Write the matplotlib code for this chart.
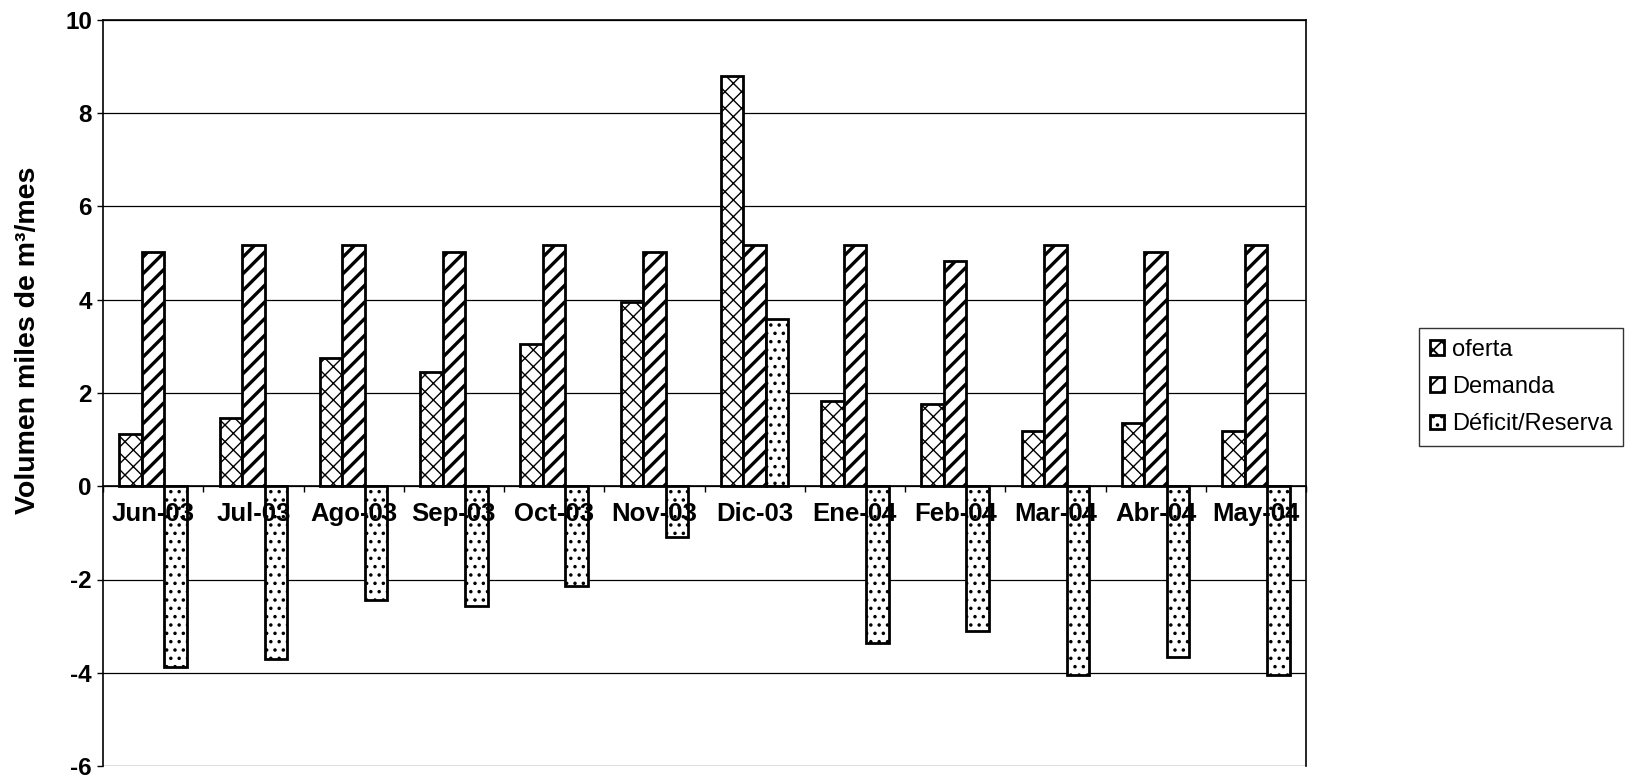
import matplotlib.pyplot as plt
import numpy as np

plt.rcParams['font.family'] = ['Liberation Sans', 'DejaVu Sans']

meses = ["Jun-03", "Jul-03", "Ago-03", "Sep-03", "Oct-03", "Nov-03",
         "Dic-03", "Ene-04", "Feb-04", "Mar-04", "Abr-04", "May-04"]
oferta = [1.12, 1.46, 2.75, 2.46, 3.06, 3.95, 8.79, 1.82, 1.77, 1.18, 1.35, 1.18]
demanda = [5.02, 5.17, 5.17, 5.02, 5.17, 5.02, 5.17, 5.17, 4.83, 5.17, 5.02, 5.17]
deficit = [-3.88, -3.71, -2.45, -2.57, -2.13, -1.09, 3.58, -3.36, -3.10, -4.04, -3.66, -4.04]
yticks = [-6, -4, -2, 0, 2, 4, 6, 8, 10]

fig = plt.figure(figsize=(16.32, 7.77), dpi=100)
ax = fig.add_axes([103 / 1632, 11 / 777, 1203 / 1632, 746 / 777])

x = np.arange(len(meses))
w = 0.225

plt.rcParams['hatch.linewidth'] = 1.0
b1 = ax.bar(x - w, oferta, w, color="white", edgecolor="black", linewidth=2,
            hatch="xx", label="oferta", zorder=2)
plt.rcParams['hatch.linewidth'] = 2.4
b2 = ax.bar(x, demanda, w, color="white", edgecolor="black", linewidth=2,
            hatch="//", label="Demanda", zorder=2)
plt.rcParams['hatch.linewidth'] = 1.3
b3 = ax.bar(x + w, deficit, w, color="white", edgecolor="black", linewidth=2,
            hatch="..", label="Déficit/Reserva", zorder=2)

ax.set_xlim(-0.5, len(meses) - 0.5)
ax.set_ylim(-6, 10)
ax.set_yticks(yticks)
ax.set_yticklabels([str(v) for v in yticks], fontsize=17.5, fontweight="bold")
ax.tick_params(axis="y", direction="out", length=4, width=1, pad=4)

# x axis sits on the zero line; month labels go on top of the bars
ax.spines["bottom"].set_position(("data", 0))
ax.set_xticks(np.arange(-0.5, len(meses), 1))
ax.set_xticklabels([])
ax.tick_params(axis="x", which="major", direction="out", length=4, width=1)
for i, m in enumerate(meses):
    ax.text(i, -0.33, m, ha="center", va="top", fontsize=18.5,
            fontweight="bold", zorder=5)

for s in ["left", "right", "top", "bottom"]:
    ax.spines[s].set_linewidth(1.2)

ax.grid(axis="y", color="black", linewidth=0.9)
ax.set_axisbelow(True)

fig.text(28 / 1632, 1 - 340 / 777, "Volumen miles de m³/mes", rotation=90,
         ha="center", va="center", fontsize=20.5, fontweight="bold")

leg = fig.legend(handles=[b1, b2, b3], loc="upper left",
                 bbox_to_anchor=(1419 / 1632, 1 - 328 / 777), fontsize=17,
                 frameon=True, fancybox=False, edgecolor="black",
                 handlelength=0.6, handleheight=0.6, handletextpad=0.35,
                 labelspacing=0.65, borderpad=0.45, borderaxespad=0)
leg.get_frame().set_linewidth(1.0)

fig.savefig("out.png", dpi=100, facecolor="white")
